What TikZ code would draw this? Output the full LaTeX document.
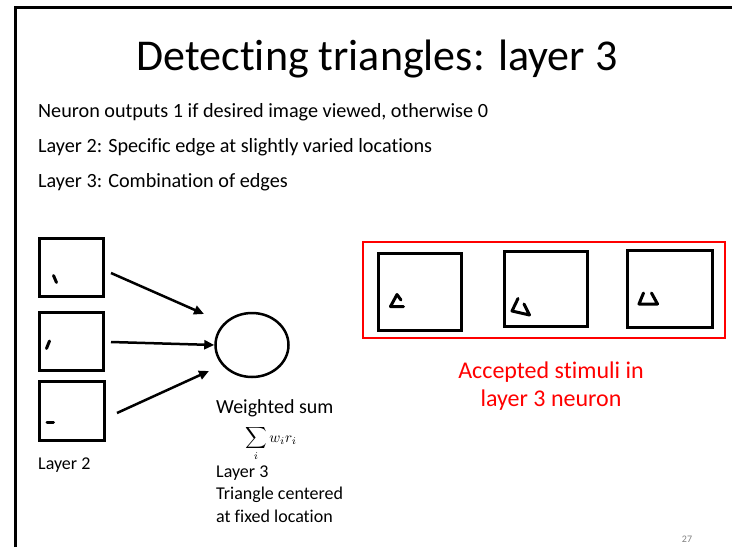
\documentclass[tikz,border=0pt]{standalone}
\usepackage{fontspec}
\setmainfont{Carlito}[Ligatures=CommonOff]
\usetikzlibrary{arrows.meta,shapes.geometric}
\begin{document}
\begin{tikzpicture}[x=1pt,y=-1pt,
  frame/.style={line width=3pt},
  imgbox/.style={draw,line width=3pt},
  pen/.style={line width=3pt,line cap=round,line join=round},
  arr/.style={line width=2.5pt,-{Triangle[length=10pt,width=9pt]}},
  body/.style={anchor=base west,inner sep=0pt,font=\fontsize{20.2}{23}\selectfont},
  small/.style={anchor=base west,inner sep=0pt,font=\fontsize{18}{21}\selectfont},
  redtxt/.style={align=center,inner sep=0pt,text=red,font=\fontsize{24}{28}\selectfont}]
\useasboundingbox (0,0) rectangle (732,547);
% slide frame
\draw[frame] (15.5,547) -- (15.5,7) -- (732,7);
% title and bullet lines
\node[anchor=base,inner sep=0pt,font=\fontsize{44}{50}\selectfont] (title) at (377,70) {Detecting triangles: layer 3};
\node[body] (l1) at (38,117) {Neuron outputs 1 if desired image viewed, otherwise 0};
\node[body] (l2) at (38,152) {Layer 2: Specific edge at slightly varied locations};
\node[body] (l3) at (38,187) {Layer 3: Combination of edges};
% layer 2 inputs
\node[imgbox,minimum width=64pt,minimum height=58pt,inner sep=0pt] (b1) at (71,267.5) {};
\node[imgbox,minimum width=64pt,minimum height=58pt,inner sep=0pt] (b2) at (71,341.5) {};
\node[imgbox,minimum width=65pt,minimum height=59pt,inner sep=0pt] (b3) at (72,411) {};
\draw[pen] (53.5,275.5) -- (56.5,282.5);
\draw[pen] (46.5,348.5) -- (49.5,341);
\draw[pen] (47,422.5) -- (53.5,422.5);
\node[small] (lay2) at (38,469) {Layer 2};
% layer 3 neuron
\node[draw,ellipse,line width=2.5pt,minimum width=73pt,minimum height=64pt,inner sep=0pt] (n) at (252,345) {};
\coordinate (s1) at (111,273);
\coordinate (s2) at (111,342);
\coordinate (s3) at (117,413);
\draw[arr] (s1) -- (204,314);
\draw[arr] (s2) -- (n.west);
\draw[arr] (s3) -- (209,371);
\node[anchor=base west,inner sep=0pt,font=\fontsize{20}{24}\selectfont] (ws) at (216,413) {Weighted sum};
\node[inner sep=0pt,scale=1.5,anchor=north] (sum) at (271,426) {$\displaystyle\sum_i w_i r_i$};
\node[small] (lay3) at (216,477) {Layer 3};
\node[small] (tri) at (216,499) {Triangle centered};
\node[small] (fix) at (216,522) {at fixed location};
% accepted stimuli
\node[draw=red,line width=2pt,minimum width=362pt,minimum height=96pt,inner sep=0pt] (acc) at (544,290) {};
\node[imgbox,minimum width=83pt,minimum height=77pt,inner sep=0pt] (c1) at (419.5,291.5) {};
\node[imgbox,minimum width=83pt,minimum height=75pt,inner sep=0pt] (c2) at (545.5,288.5) {};
\node[imgbox,minimum width=85pt,minimum height=77pt,inner sep=0pt] (c3) at (669.5,288.5) {};
\draw[pen] (401,300) -- (397,294.5) -- (390.5,306.5) -- (403.5,306.5);
\draw[pen] (524,304) -- (529.5,315) -- (512,311) -- (518,298.5);
\draw[pen] (643.5,293) -- (639,304) -- (657.5,304) -- (651.5,293);
\node[redtxt] (acct) at (551,386) {Accepted stimuli in\\layer 3 neuron};
% page number
\node[anchor=base,inner sep=0pt,text=gray,font=\fontsize{10}{11}\selectfont] (pg) at (687,542) {27};
\end{tikzpicture}
\end{document}
